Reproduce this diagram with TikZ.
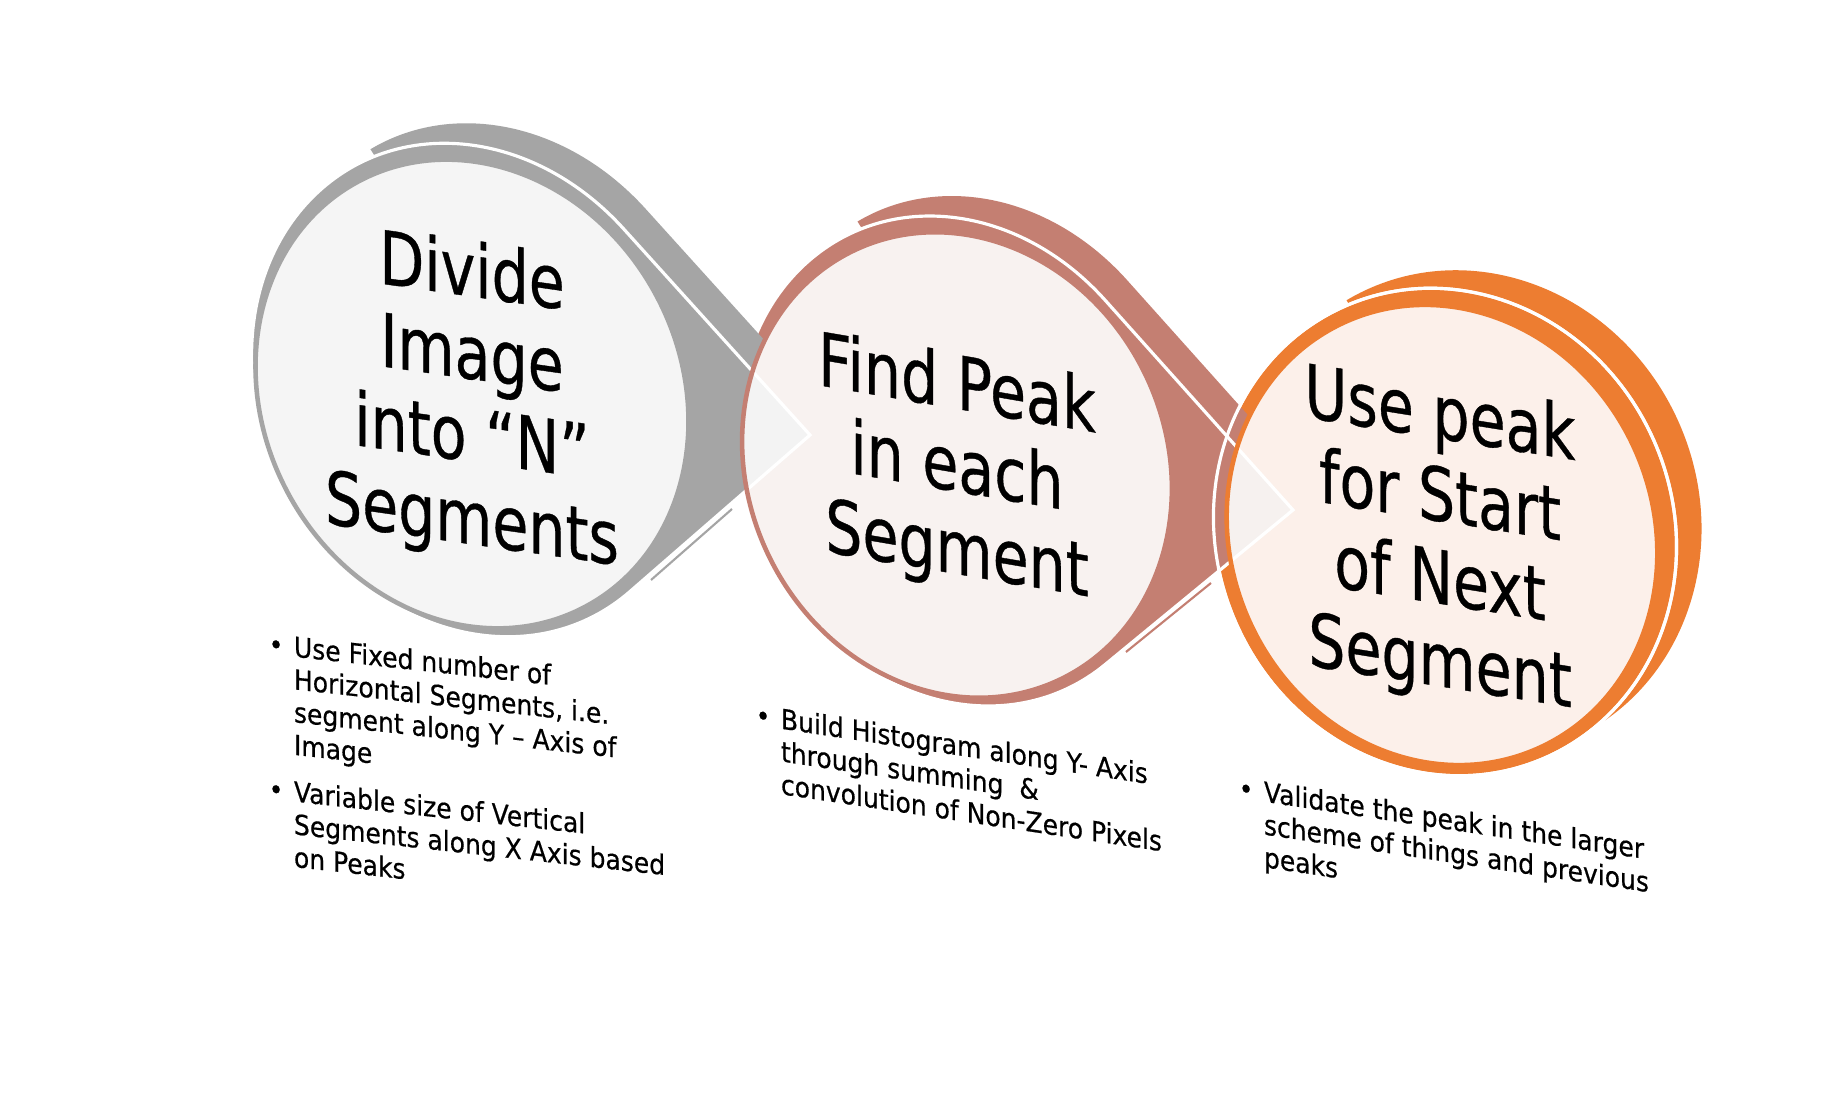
\documentclass[tikz,border=0pt]{standalone}
\usepackage{fontspec}
\setmainfont{DejaVu Sans}[FakeStretch=0.9, FakeBold=0.5]

\definecolor{stepgray}{HTML}{A5A5A5}
\definecolor{stepbrown}{HTML}{C47F72}
\definecolor{steporange}{HTML}{ED7D31}
\definecolor{discgray}{HTML}{F5F5F5}
\definecolor{discbrown}{HTML}{F8F2F0}
\definecolor{discorange}{HTML}{FCF0EA}
\definecolor{tipgray}{HTML}{F3F3F3}
\definecolor{tipbrown}{HTML}{F6F1EF}

\newcommand{\ind}{\phantom{\textbullet}\hspace{3pt}}

% ellipse: style, cx, cy, a, b, tilt
\newcommand{\discshape}[6]{%
  \path[#1, shift={(#2,#3)}, rotate=#6] (0,0) ellipse[x radius=#4, y radius=#5];}

% ellipse with a point: style, cx, cy, a, b, tilt, tip x, tip y
\newcommand{\dropshape}[8]{%
  \pgfmathsetmacro\tdx{#7-#2}
  \pgfmathsetmacro\tdy{#8-#3}
  \pgfmathsetmacro\tu{(\tdx*cos(#6)-\tdy*sin(#6))/#4}
  \pgfmathsetmacro\tv{(\tdx*sin(#6)+\tdy*cos(#6))/#5}
  \pgfmathsetmacro\tphi{atan2(\tv,\tu)}
  \pgfmathsetmacro\talpha{acos(1/sqrt(\tu*\tu+\tv*\tv))}
  \path[#1, shift={(#2,#3)}, rotate=#6] ({\tu*#4},{\tv*#5})
    -- ({#4*cos(\tphi+\talpha)},{#5*sin(\tphi+\talpha)})
    arc[start angle=\tphi+\talpha, end angle=\tphi-\talpha+360, x radius=#4, y radius=#5]
    -- cycle;}

\begin{document}
\begin{tikzpicture}[x=0.01cm, y=-0.01cm]
\tikzstyle{face} = [draw=white, line width=0.9pt]
\tikzstyle{ring} = [line width=1.3pt]
\tikzstyle{sliver} = [line width=0.6pt]
\tikzstyle{steptext} = [font=\fontsize{18.5}{20.6}\selectfont, align=center, inner sep=0pt, yscale=1.14]
\tikzstyle{listtext} = [font=\fontsize{7.9}{9.3}\selectfont, align=left, inner sep=0pt, anchor=north west]

\path[fill=white, use as bounding box] (0,0) rectangle (1823,1097);

% shapes, last step first
\begin{scope}
\clip (1254,150) -- (1900,150) -- (1900,900) -- (1716,900) -- cycle;
\discshape{fill=steporange}{1470}{514}{228}{247}{25}
\end{scope}
\discshape{face, fill=steporange}{1445}{532}{228}{247}{25}
\begin{scope}
\clip (793,120) -- (1400,120) -- (1400,800) -- (1225,800) -- cycle;
\dropshape{fill=stepbrown}{981}{441}{213}{252}{26}{1315}{490}
\end{scope}
\dropshape{face, fill=stepbrown}{959}{461}{213}{252}{26}{1293}{510}
\draw[sliver, stepbrown] (1126,652) -- (1211,583);
\discshape{face}{1445}{532}{228}{247}{25}
\begin{scope}
\clip (313,60) -- (900,60) -- (900,700) -- (725,700) -- cycle;
\dropshape{fill=stepgray}{498}{370}{215}{255}{28}{832}{415}
\end{scope}
\dropshape{face, fill=stepgray}{476}{390}{215}{255}{28}{810}{435}
\draw[sliver, stepgray] (651,580) -- (732,509);

\discshape{fill=discgray}{472}{394}{209}{241}{28}
\discshape{fill=discbrown}{957}{465}{209}{238}{26}
\discshape{fill=discorange}{1442}{535}{211}{234}{25}

\begin{scope}
\clip[shift={(957,465)}, rotate=26] (0,0) ellipse[x radius=209, y radius=238];
\dropshape{face, fill=tipgray}{476}{390}{215}{255}{28}{810}{435}
\end{scope}
\begin{scope}
\clip[shift={(1442,535)}, rotate=25] (0,0) ellipse[x radius=211, y radius=234];
\dropshape{face, fill=tipbrown}{959}{461}{213}{252}{26}{1293}{510}
\end{scope}

\discshape{ring, draw=stepgray}{472}{394}{209}{241}{28}
\discshape{ring, draw=stepbrown}{957}{465}{209}{238}{26}
\discshape{ring, draw=steporange}{1442}{535}{211}{234}{25}

\node (divide) [steptext, yslant=-0.125] at (472,400) {Divide\\Image\\into “N”\\Segments};
\node (findpeak) [steptext, yslant=-0.15] at (957,471) {Find Peak\\in each\\Segment};
\node (usepeak) [steptext, yslant=-0.14] at (1440,542) {Use peak\\for Start\\of Next\\Segment};

\node (fixedlist) [listtext, yslant=-0.11] at (268,632) {\textbullet\hspace{3pt}Use Fixed number of\\\ind Horizontal Segments, i.e.\\\ind segment along Y – Axis of\\\ind Image\\[4pt]\textbullet\hspace{3pt}Variable size of Vertical\\\ind Segments along X Axis based\\\ind on Peaks};
\node (histlist) [listtext, yslant=-0.15] at (755,703) {\textbullet\hspace{3pt}Build Histogram along Y- Axis\\\ind through summing \ \&\\\ind convolution of Non-Zero Pixels};
\node (validlist) [listtext, yslant=-0.15] at (1238,776) {\textbullet\hspace{3pt}Validate the peak in the larger\\\ind scheme of things and previous\\\ind peaks};
\end{tikzpicture}
\end{document}
